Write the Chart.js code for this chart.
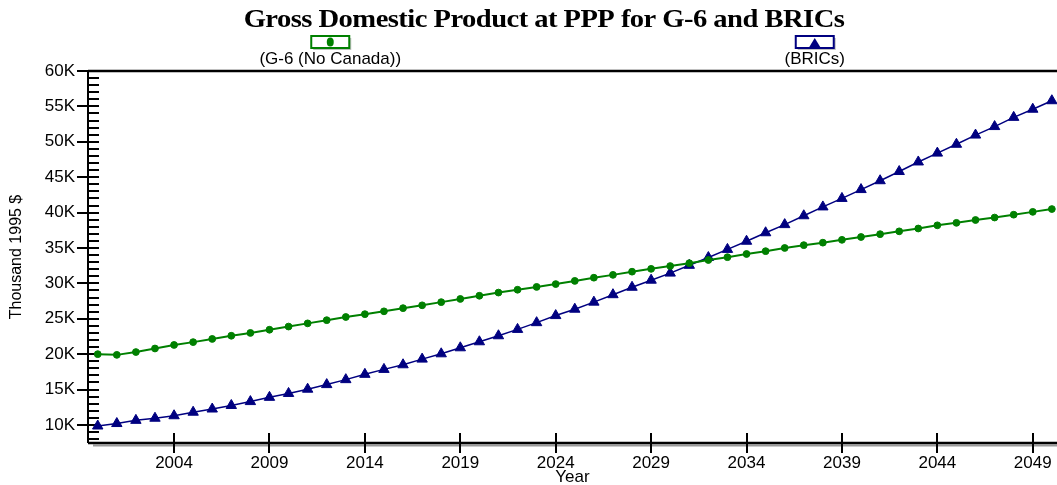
<!DOCTYPE html>
<html>
<head>
<meta charset="utf-8">
<title>Gross Domestic Product at PPP for G-6 and BRICs</title>
<script src="https://cdn.jsdelivr.net/npm/chart.js@4.4.1/dist/chart.umd.min.js"></script>
<style>
  body { margin: 0; background: #fff; }
  #gdpChart { display: block; }
</style>
</head>
<body>
<canvas id="gdpChart" width="1057" height="485"></canvas>
<script>
// values in thousand 1995 $
const years = [2000, 2001, 2002, 2003, 2004, 2005, 2006, 2007, 2008, 2009,
               2010, 2011, 2012, 2013, 2014, 2015, 2016, 2017, 2018, 2019,
               2020, 2021, 2022, 2023, 2024, 2025, 2026, 2027, 2028, 2029,
               2030, 2031, 2032, 2033, 2034, 2035, 2036, 2037, 2038, 2039,
               2040, 2041, 2042, 2043, 2044, 2045, 2046, 2047, 2048, 2049, 2050];

const g6 = [20.0, 19.9, 20.3, 20.8, 21.3, 21.7, 22.15, 22.6, 23.0, 23.45,
            23.9, 24.35, 24.8, 25.25, 25.65, 26.05, 26.5, 26.9, 27.35, 27.8,
            28.25, 28.7, 29.1, 29.5, 29.9, 30.35, 30.8, 31.2, 31.65, 32.05,
            32.45, 32.85, 33.3, 33.7, 34.15, 34.55, 35.0, 35.4, 35.75, 36.15,
            36.55, 36.95, 37.35, 37.75, 38.2, 38.55, 38.95, 39.3, 39.7, 40.1, 40.5];

const brics = [9.85, 10.2, 10.65, 10.95, 11.3, 11.8, 12.25, 12.75, 13.3, 13.9,
               14.45, 15.05, 15.7, 16.4, 17.15, 17.85, 18.5, 19.3, 20.05, 20.9,
               21.75, 22.6, 23.5, 24.45, 25.45, 26.35, 27.35, 28.4, 29.45, 30.45,
               31.45, 32.55, 33.65, 34.8, 35.95, 37.15, 38.3, 39.55, 40.8, 42.0,
               43.25, 44.5, 45.8, 47.15, 48.4, 49.65, 50.95, 52.15, 53.45, 54.6, 55.8];

const xTicks = [2004, 2009, 2014, 2019, 2024, 2029, 2034, 2039, 2044, 2049];
const yTicks = [10, 15, 20, 25, 30, 35, 40, 45, 50, 55, 60];

const chartTitle = 'Gross Domestic Product at PPP for G-6 and BRICs';
const font = '"Liberation Sans", Arial, sans-serif';

// axes drawn by hand: outer ticks on majors, inner ticks every 1K
const framePlugin = {
    id: 'frame',
    beforeDatasetsDraw(chart) {
        const {ctx, chartArea: a, scales: {x, y}} = chart;
        ctx.save();
        ctx.strokeStyle = '#000';

        ctx.lineWidth = 2.5;
        ctx.beginPath();
        ctx.moveTo(a.left, a.top);
        ctx.lineTo(a.right, a.top);
        ctx.stroke();

        ctx.lineWidth = 2;
        ctx.beginPath();
        ctx.moveTo(a.left, a.top);
        ctx.lineTo(a.left, a.bottom);
        for (let v = Math.ceil(y.min); v <= y.max; v++) {
            const py = Math.round(y.getPixelForValue(v));
            ctx.moveTo(a.left, py);
            ctx.lineTo(a.left + 11, py);
        }
        yTicks.forEach(v => {
            const py = Math.round(y.getPixelForValue(v));
            ctx.moveTo(a.left - 11, py);
            ctx.lineTo(a.left, py);
        });
        ctx.stroke();

        // bottom axis with grey shadow
        ctx.strokeStyle = '#999';
        ctx.beginPath();
        ctx.moveTo(a.left + 5, a.bottom + 2.5);
        ctx.lineTo(a.right, a.bottom + 2.5);
        ctx.stroke();

        ctx.strokeStyle = '#000';
        ctx.lineWidth = 2.5;
        ctx.beginPath();
        ctx.moveTo(a.left, a.bottom);
        ctx.lineTo(a.right, a.bottom);
        ctx.stroke();

        ctx.lineWidth = 2;
        ctx.beginPath();
        xTicks.forEach(v => {
            const px = Math.round(x.getPixelForValue(v));
            ctx.moveTo(px, a.bottom - 10);
            ctx.lineTo(px, a.bottom + 10);
        });
        ctx.stroke();
        ctx.restore();
    },
    afterDraw(chart) {
        const {ctx, chartArea: a} = chart;
        ctx.save();

        // heavy, slightly stretched serif title
        ctx.save();
        ctx.translate(544, 27);
        ctx.scale(1.1, 1);
        ctx.fillStyle = '#000';
        ctx.font = 'bold 26px "Liberation Serif", "Times New Roman", serif';
        ctx.letterSpacing = '-0.5px';
        ctx.textAlign = 'center';
        ctx.textBaseline = 'alphabetic';
        ctx.fillText(chartTitle, 0, 0);
        ctx.restore();

        // legend: symbol box above label, one item per half of the plot
        chart.data.datasets.forEach((ds, i) => {
            const cx = a.left + (a.right - a.left) * (i * 2 + 1) / 4;
            const bx = cx - 19, by = 36, bw = 38, bh = 12;
            ctx.fillStyle = '#c0c0c0';
            ctx.fillRect(bx + 2, by + 2, bw, bh);
            ctx.fillStyle = '#fff';
            ctx.fillRect(bx, by, bw, bh);
            ctx.strokeStyle = ds.borderColor;
            ctx.lineWidth = 2;
            ctx.strokeRect(bx, by, bw, bh);

            ctx.fillStyle = ds.borderColor;
            ctx.beginPath();
            if (ds.pointStyle === 'triangle') {
                ctx.moveTo(cx, by + 2);
                ctx.lineTo(cx + 5.5, by + bh - 1);
                ctx.lineTo(cx - 5.5, by + bh - 1);
                ctx.closePath();
            } else {
                ctx.ellipse(cx, by + bh / 2, 3.5, 4.5, 0, 0, Math.PI * 2);
            }
            ctx.fill();

            ctx.fillStyle = '#000';
            ctx.font = '17px ' + font;
            ctx.textAlign = 'center';
            ctx.textBaseline = 'middle';
            ctx.fillText(ds.label, cx, 59);
        });
        ctx.restore();
    }
};

new Chart(document.getElementById('gdpChart'), {
    type: 'line',
    data: {
        datasets: [{
            label: '(G-6 (No Canada))',
            data: years.map((yr, i) => ({x: yr, y: g6[i]})),
            borderColor: '#008000',
            backgroundColor: '#008000',
            borderWidth: 2,
            pointStyle: 'circle',
            pointRadius: 3.4,
            pointBorderWidth: 1,
            tension: 0
        }, {
            label: '(BRICs)',
            data: years.map((yr, i) => ({x: yr, y: brics[i]})),
            borderColor: '#000080',
            backgroundColor: '#000080',
            borderWidth: 1.5,
            pointStyle: 'triangle',
            pointRadius: 6,
            pointBorderWidth: 1,
            tension: 0
        }]
    },
    options: {
        responsive: false,
        animation: false,
        devicePixelRatio: 1,
        layout: { autoPadding: false, padding: { top: 71, right: 0, bottom: 0, left: 0 } },
        plugins: {
            legend: { display: false },
            title: { display: false },
            tooltip: { enabled: false }
        },
        scales: {
            x: {
                type: 'linear',
                min: 1999.49,
                max: 2050.27,
                grid: { display: false, drawTicks: false },
                border: { display: false },
                afterBuildTicks: s => { s.ticks = xTicks.map(v => ({value: v})); },
                afterFit: s => {
                    s.height = 42;
                    s.paddingLeft = 0;
                    s.paddingRight = 0;
                },
                ticks: {
                    color: '#000',
                    font: { family: font, size: 17 },
                    padding: 10,
                    maxRotation: 0,
                    callback: v => String(v)
                },
                title: {
                    display: true,
                    text: 'Year',
                    color: '#000',
                    font: { family: font, size: 17, lineHeight: 0.9 },
                    padding: 0
                }
            },
            y: {
                type: 'linear',
                min: 7.45,
                max: 60,
                grid: { display: false, drawTicks: false },
                border: { display: false },
                afterBuildTicks: s => { s.ticks = yTicks.map(v => ({value: v})); },
                afterFit: s => { s.width = 88; },
                ticks: {
                    color: '#000',
                    font: { family: font, size: 17 },
                    padding: 13,
                    callback: v => v + 'K'
                },
                title: {
                    display: true,
                    text: 'Thousand 1995 $',
                    color: '#000',
                    font: { family: font, size: 16 },
                    padding: { top: 7, bottom: 0 }
                }
            }
        }
    },
    plugins: [framePlugin]
});
</script>
</body>
</html>
